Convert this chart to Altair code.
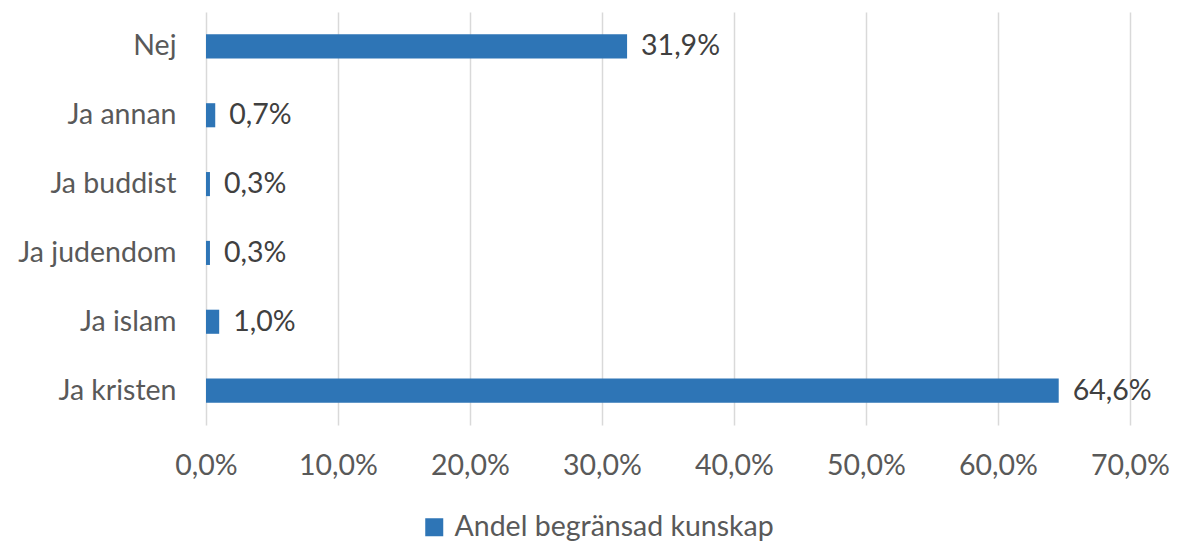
import altair as alt
import pandas as pd

categories = ["Nej", "Ja annan", "Ja buddist", "Ja judendom", "Ja islam", "Ja kristen"]
values = [0.319, 0.007, 0.003, 0.003, 0.010, 0.646]
series_name = "Andel begränsad kunskap"

df = pd.DataFrame({"kategori": categories, "andel": values, "serie": [series_name] * len(categories)})

FONT = "Lato"
FS = 28.5

base = alt.Chart(df).encode(
    y=alt.Y("kategori:N", sort=categories,
            scale=alt.Scale(paddingInner=0.65, paddingOuter=0.325),
            axis=alt.Axis(title=None, domain=False, ticks=False, labelPadding=30,
                          labelFont=FONT, labelFontSize=FS, labelColor="#595959", grid=False,
                          labelLimit=400)),
)

bars = base.mark_bar(color="#2E75B6").encode(
    x=alt.X("andel:Q", scale=alt.Scale(domain=[0, 0.7], nice=False),
            axis=alt.Axis(title=None, values=[0, 0.1, 0.2, 0.3, 0.4, 0.5, 0.6, 0.7],
                          labelExpr="replace(format(datum.value, '.1%'), '.', ',')",
                          domain=False, ticks=False, grid=True, gridColor="#D9D9D9", gridWidth=1.5,
                          labelFlush=False, labelBound=False, labelOverlap=False,
                          labelPadding=26, labelFont=FONT, labelFontSize=FS, labelColor="#595959")),
    color=alt.Color("serie:N", scale=alt.Scale(range=["#2E75B6"]),
                    legend=alt.Legend(title=None, orient="none", legendX=214, legendY=501,
                                      symbolType="square", symbolSize=324, symbolStrokeWidth=0,
                                      labelFont=FONT, labelFontSize=FS, labelColor="#595959",
                                      labelOffset=6, labelLimit=600)),
)

labels = base.mark_text(align="left", baseline="middle", dx=14, font=FONT, fontSize=FS, color="#404040").transform_calculate(
    lab="replace(format(datum.andel, '.1%'), '.', ',')"
).encode(
    x=alt.X("andel:Q"),
    text=alt.Text("lab:N"),
)

chart = (bars + labels).properties(
    width=924, height=413,
    autosize=alt.AutoSizeParams(type="none"),
    padding={"left": 198, "top": 4, "right": 42, "bottom": 130},
).configure_view(stroke=None)

chart.save("out.html", embed_options={"renderer": "svg", "actions": False})
